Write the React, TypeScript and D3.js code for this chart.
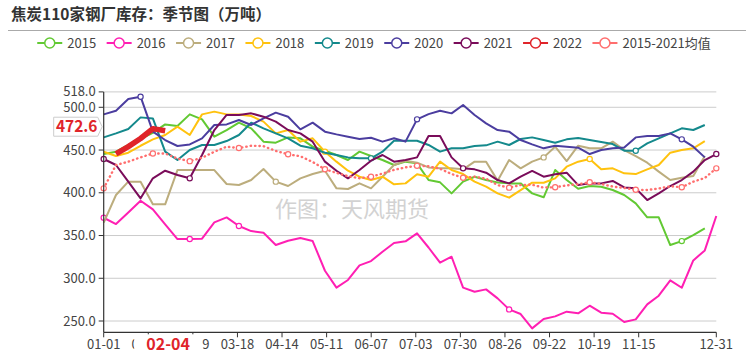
import React from 'react';
import * as d3 from 'd3';

const W = 751;
const H = 357;
const FONT = "'Noto Sans CJK SC', 'Noto Sans', sans-serif";

const title = '焦炭110家钢厂库存：季节图（万吨）';
const seriesNames = ['2015', '2016', '2017', '2018', '2019', '2020', '2021', '2022', '2015-2021均值'];
const seriesColors = ['#62c933', '#ff1fb3', '#bcad7d', '#ffc20e', '#14898c', '#4b3d9f', '#7a0c5a', '#e0242a', '#ff6e6e'];

// x axis: category-like axis, ticks every 27 categories, last category = 12-31
const tickUnits = [0, 27, 54, 81, 108, 135, 162, 189, 216, 243, 270, 297, 324, 371];
const tickLabels = ['01-01', '01-28', '02-19', '03-18', '04-14', '05-11', '06-07', '07-03', '07-30', '08-26', '09-22', '10-19', '11-15', '12-31'];
// weekly observation index -> category position
const weekKnots = [0, 18, 52];
const unitKnots = [0, 134, 371];

const yTicks = [250, 300, 350, 400, 450, 500, 518];

const s2015 = [445.3, 448.1, 456, 463, 470, 480, 478, 491.7, 485.9, 465.6, 473.4, 482, 475.4, 459.8, 458.6, 464.8, 463.7, 453.9, 449.2, 444.2, 438.3, 448.1, 443, 438.3, 432.5, 436.4, 434.4, 414.9, 412.2, 399.3, 413, 418.8, 414.9, 412, 411, 411, 399.3, 394.7, 426.6, 414.9, 404.8, 407.9, 407.1, 403.2, 397.4, 387.6, 371.3, 371.3, 338.9, 343.5, 350.5, 358.4];
const s2016 = [370.8, 363.4, 377, 390.7, 380.6, 363, 345.9, 345.9, 346.3, 365.4, 371.2, 361.1, 355.2, 353.3, 338.9, 343.9, 347.1, 343.5, 308.8, 289, 298, 315.1, 320.1, 331, 341.2, 343.2, 352.5, 336, 318.2, 325.2, 289, 284.3, 287, 276.5, 263.6, 258.2, 241.4, 252.3, 255.4, 260.9, 259, 267.9, 259.7, 258.5, 248.8, 251.9, 269.5, 279.6, 297.5, 288.9, 320.9, 332.6, 372.8];
const s2017 = [365, 397.4, 413, 413, 386.5, 386.5, 426.6, 426.6, 426.6, 426.6, 410.3, 409.1, 415, 427.8, 413, 407.9, 416.9, 422, 425.8, 405.2, 404.4, 411, 405.2, 418.8, 432.5, 437.5, 435.2, 429.7, 428.6, 428.6, 427.4, 436.4, 436.4, 414.2, 438.3, 428.6, 436.4, 441.4, 453.9, 437.1, 455.1, 452, 452, 459.8, 450, 443, 435.2, 424.7, 414.9, 417.6, 419.6, 443];
const s2018 = [448, 443, 446.9, 455, 462.5, 467.6, 477.3, 467.6, 491.7, 494.9, 491.7, 491.7, 489.8, 483.2, 469.5, 473.4, 459.8, 463.7, 448.1, 436.4, 425.8, 418.8, 414.9, 418.8, 409.9, 411, 421.6, 418.8, 436.4, 426.6, 421.9, 413, 407.1, 399.3, 394.3, 403.2, 411.8, 411.8, 416.9, 430.5, 436.4, 439.5, 427.4, 428.6, 422.7, 421.9, 427.4, 432.5, 446.9, 450, 452, 460.5];
const s2019 = [464.8, 469.5, 474.6, 488.2, 487, 448.1, 438.3, 450, 455.9, 455.9, 460.5, 467.6, 482, 475.4, 469.5, 463.7, 455.1, 452, 446.9, 444.2, 441.4, 440.3, 440.3, 448.1, 460.9, 460.9, 460.9, 455.9, 448.1, 452, 452, 454.7, 455.5, 459.8, 455.9, 462.9, 464.8, 461.7, 458.6, 462.5, 464, 461.7, 459.4, 457, 449.2, 449.2, 457.8, 463.7, 469.5, 475.4, 473.4, 479.3];
const s2020 = [491.7, 496, 509.7, 512.4, 471.5, 461.7, 454.7, 456.6, 463.7, 479.3, 480, 485.1, 479.3, 487, 493.7, 489, 474.2, 482, 471.5, 468.3, 465.6, 462.9, 464.4, 459.8, 463.7, 459.8, 485.9, 492, 496, 492.9, 502.7, 491, 481.2, 473.4, 471.5, 461.7, 456.6, 452, 455.1, 453.9, 452.7, 445.3, 450, 452, 453.1, 464.8, 466.4, 466.4, 469.5, 462.5, 453.9, 441.4];
const s2021 = [439.5, 432.5, 413, 393.5, 416.9, 425.8, 420.8, 416.9, 444.2, 473.4, 491, 491, 492.9, 489, 483.2, 473.4, 469.5, 459.8, 436.4, 425.8, 416.9, 426.6, 437.5, 444.2, 436.4, 438.3, 441.4, 466.4, 466.4, 441.4, 428.6, 427.4, 423.5, 414.9, 411, 418.8, 425.5, 418.8, 421.6, 423.5, 409, 411, 411, 413.8, 406.3, 405.2, 391.5, 399.3, 407.9, 414.9, 424.7, 438.3, 445.3];
const s2022 = [null, 445.5, 454, 463.5, 475, 472.6];
const sAvg = [405.2, 432.5, 436.4, 441.4, 446, 446, 440, 437, 441, 448, 453.9, 452.3, 455, 454.5, 449, 445, 442.7, 436, 427.5, 423.3, 419.5, 417, 418.8, 422.5, 426.8, 429.7, 431.5, 431, 428, 422, 417.5, 418.8, 416.5, 409, 406, 409, 409.5, 406, 406.5, 408.6, 410, 412.3, 410.2, 407.3, 405.6, 403.5, 403.2, 405, 407.6, 406.5, 413, 417.3, 428.6];

// points that sit on a labelled category (drawn with a hollow symbol)
const m2015 = [49];
const m2016 = [0, 7, 11, 34];
const m2017 = [14, 37];
const m2018 = [18, 41];
const m2019 = [22, 45];
const m2020 = [3, 26, 49];
const m2021 = [0, 7, 30, 52];
const m2022: number[] = [];
const mAvg = [0, 4, 7, 11, 15, 18, 22, 26, 30, 34, 38, 41, 45, 49, 52];

const allValues = [s2015, s2016, s2017, s2018, s2019, s2020, s2021, s2022, sAvg];
const allMarkers = [m2015, m2016, m2017, m2018, m2019, m2020, m2021, m2022, mAvg];

const pointerDate = '02-04';
const pointerValue = 472.6;
const watermark = '作图：天风期货';

const PLOT = { left: 103.7, right: 716.3, top: 91.9, bottom: 332.3 };

export default function App() {
  const xUnit = d3.scaleLinear().domain([0, 371]).range([PLOT.left, PLOT.right]);
  const weekToUnit = d3.scaleLinear().domain(weekKnots).range(unitKnots);
  const xw = (i: number) => xUnit(weekToUnit(i));
  const y = d3.scaleLinear().domain([236.8, 518]).range([PLOT.bottom, PLOT.top]);

  const line = d3
    .line<number | null>()
    .defined((d) => d !== null)
    .x((_, i) => xw(i))
    .y((d) => y(d as number));

  // legend layout
  const symW = 25;
  const textGap = 5;
  const itemGap = 11;
  const textW = (s: string) => {
    let w = 0;
    for (const ch of s) {
      if (/[\u4e00-\u9fff]/.test(ch)) w += 13;
      else if (ch === '-') w += 4.5;
      else w += 7.1;
    }
    return w;
  };
  const widths = seriesNames.map((n) => symW + textGap + textW(n));
  const total = d3.sum(widths) + itemGap * (seriesNames.length - 1);
  let cursor = (W - total) / 2 - 2;
  const legendX = widths.map((w) => {
    const x0 = cursor;
    cursor += w + itemGap;
    return x0;
  });
  const legendY = 43;

  const lastIdx = s2022.length - 1;
  const pointerX = xw(lastIdx);
  const pointerY = y(pointerValue) - 4;

  const drawOrder = [0, 1, 2, 3, 4, 5, 6, 8, 7];

  return (
    <svg
      width={W}
      height={H}
      style={{ position: 'absolute', left: 0, top: 0, background: '#fff' }}
      fontFamily={FONT}
    >
      <rect x={0} y={0} width={W} height={H} fill="#fff" />
      <text x={11} y={20} fontSize={15.5} fontWeight="bold" fill="#333">
        {title}
      </text>
      <line x1={8} x2={746} y1={30.5} y2={30.5} stroke="#aaa" strokeWidth={1} />

      {/* legend */}
      {seriesNames.map((name, i) => {
        const x0 = legendX[i];
        return (
          <g key={name}>
            <line x1={x0} x2={x0 + symW} y1={legendY} y2={legendY} stroke={seriesColors[i]} strokeWidth={2} />
            <circle cx={x0 + symW / 2} cy={legendY} r={5} fill="#fff" stroke={seriesColors[i]} strokeWidth={1.5} />
            <text x={x0 + symW + textGap} y={legendY} dy="0.35em" fontSize={13} fill="#444">
              {name}
            </text>
          </g>
        );
      })}

      {/* grid */}
      {yTicks.map((t) => (
        <line key={t} x1={PLOT.left} x2={PLOT.right} y1={y(t)} y2={y(t)} stroke="#ccc" strokeWidth={1} />
      ))}

      {/* watermark */}
      <text x={352} y={209} textAnchor="middle" dy="0.35em" fontSize={22} fill="#d2d2d2">
        {watermark}
      </text>

      {/* series */}
      {drawOrder.map((si) => {
        const vals = allValues[si];
        const isAvg = si === 8;
        const is2022 = si === 7;
        return (
          <g key={seriesNames[si]}>
            <path
              d={line(vals) || ''}
              fill="none"
              stroke={seriesColors[si]}
              strokeWidth={is2022 ? 5.5 : isAvg ? 2.4 : 2}
              strokeDasharray={isAvg ? '0.4 4' : undefined}
              strokeLinecap={isAvg ? 'round' : 'butt'}
              strokeLinejoin="round"
            />
            {allMarkers[si].map((mi) =>
              vals[mi] === null || vals[mi] === undefined ? null : (
                <circle
                  key={mi}
                  cx={xw(mi)}
                  cy={y(vals[mi] as number)}
                  r={2.6}
                  fill="#fff"
                  stroke={seriesColors[si]}
                  strokeWidth={1.2}
                />
              )
            )}
          </g>
        );
      })}

      {/* y axis */}
      <line x1={PLOT.left} x2={PLOT.left} y1={PLOT.top} y2={PLOT.bottom} stroke="#333" strokeWidth={1.2} />
      {yTicks.map((t) => (
        <g key={t}>
          <line x1={PLOT.left - 5} x2={PLOT.left} y1={y(t)} y2={y(t)} stroke="#333" />
          <text x={PLOT.left - 8} y={y(t)} dy="0.35em" textAnchor="end" fontSize={13} fill="#444">
            {d3.format('.1f')(t)}
          </text>
        </g>
      ))}

      {/* x axis */}
      <line x1={PLOT.left} x2={PLOT.right} y1={PLOT.bottom} y2={PLOT.bottom} stroke="#333" strokeWidth={1.2} />
      {tickUnits.map((u, i) => (
        <g key={u}>
          <line x1={xUnit(u)} x2={xUnit(u)} y1={PLOT.bottom} y2={PLOT.bottom + 5} stroke="#333" />
          <text x={xUnit(u)} y={PLOT.bottom + 12} dy="0.35em" textAnchor="middle" fontSize={13} fill="#444">
            {tickLabels[i]}
          </text>
        </g>
      ))}

      {/* axis pointer labels */}
      <rect x={pointerX - 31} y={PLOT.bottom + 2} width={68} height={22} fill="#fff" />
      <text x={pointerX + 3} y={PLOT.bottom + 12.5} dy="0.35em" textAnchor="middle" fontSize={16} fontWeight="bold" fill="#e0242a">
        {pointerDate}
      </text>
      <path
        d={`M${PLOT.left - 50},${pointerY - 9.5} H${PLOT.left - 6} L${PLOT.left - 1.5},${pointerY} L${PLOT.left - 6},${pointerY + 9.5} H${PLOT.left - 50} Z`}
        fill="#fff"
        stroke="#ccc"
        strokeWidth={1}
      />
      <text x={PLOT.left - 27} y={pointerY} dy="0.35em" textAnchor="middle" fontSize={15.5} fontWeight="bold" fill="#e0242a">
        {d3.format('.1f')(pointerValue)}
      </text>
    </svg>
  );
}
